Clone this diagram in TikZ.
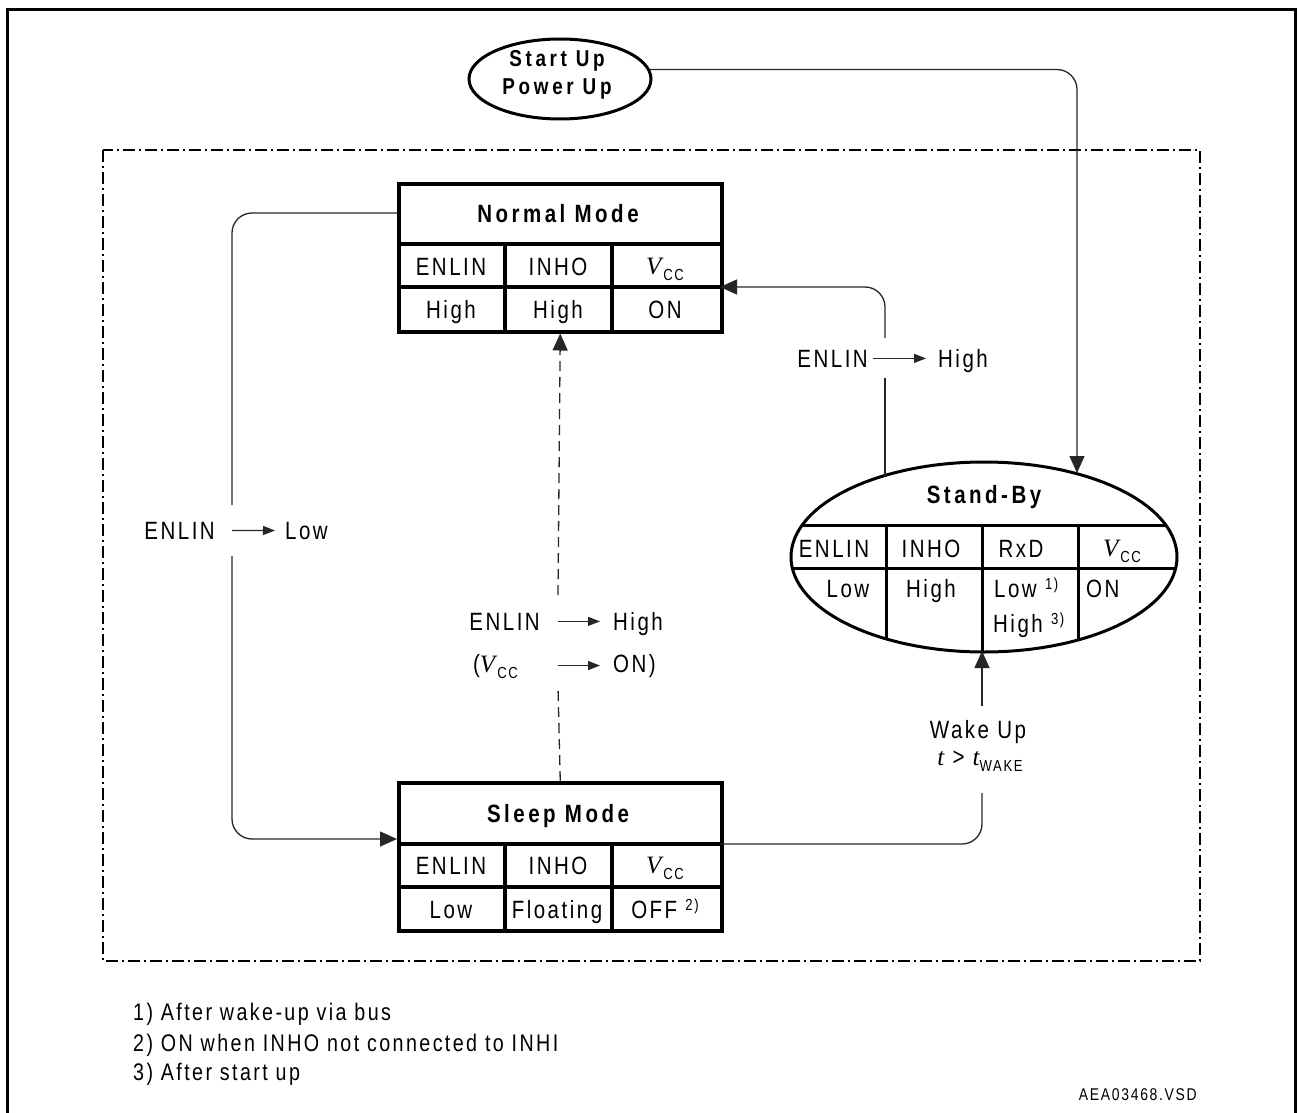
\documentclass[tikz,border=0pt]{standalone}
\usepackage{fontspec}
\setmainfont{Liberation Sans}[FakeStretch=0.82, LetterSpace=10]
\newfontfamily\tnr{Liberation Serif}
\usetikzlibrary{shapes.geometric, arrows.meta}
\newcommand\Vcc{{\tnr\itshape V}\hspace{2pt}\raisebox{-6pt}{\fontsize{16}{16}\selectfont CC}}
\newcommand\tWake{{\tnr\itshape t}\raisebox{-6pt}{\fontsize{16}{16}\selectfont WAKE}}
\newcommand\fnm[1]{\raisebox{8pt}{\fontsize{16}{16}\selectfont #1}}
\tikzset{
  txt/.style={inner sep=0pt, anchor=base, font=\fontsize{25}{30}\selectfont},
  ttl/.style={inner sep=0pt, anchor=base, font=\fontsize{25}{30}\selectfont\bfseries\addfontfeature{LetterSpace=14}},
  sttl/.style={inner sep=0pt, anchor=base, font=\fontsize{23}{28}\selectfont\bfseries\addfontfeature{LetterSpace=16}},
  fnt/.style={inner sep=0pt, anchor=base west, font=\fontsize{24}{28}\selectfont},
  conn/.style={line width=1.3pt, draw=black!85, rounded corners=20pt},
  tip/.style={-{Triangle[length=17pt,width=15pt]}},
  labarr/.style={line width=1.3pt, draw=black!85, -{Triangle[length=12pt,width=9pt]}},
  boxline/.style={line width=3.5pt},
  statebox/.style={draw, line width=3.5pt, minimum width=323pt, minimum height=148pt, inner sep=0pt, anchor=north west},
}
\begin{document}
\begin{tikzpicture}[x=1pt,y=-1pt]
\useasboundingbox (0,0) rectangle (1298,1113);
% outer frame
\draw[line width=3pt] (7,1125) -- (7,10) -- (1295,10) -- (1295,1125);
% dash-dot frame
\draw[line width=2pt, dash pattern=on 12pt off 4pt on 2pt off 4pt] (103,150) rectangle (1200,961);

% Start up ellipse
\node[draw, ellipse, line width=3pt, minimum width=182pt, minimum height=80pt, inner sep=0pt] (se) at (560,79) {};
\node[sttl] (se1) at (557,67) {Start Up};
\node[sttl] (se2) at (557,95) {Power Up};

% Normal mode box
\node[statebox] (nm) at (397,182) {};
\draw[boxline] (397,244) -- (720,244);
\draw[boxline] (397,287) -- (720,287);
\draw[boxline] (505,244) -- (505,331);
\draw[boxline] (612,244) -- (612,331);
\node[ttl] (nmT) at (558,222) {Normal Mode};
\node[txt] (nm11) at (451,275) {ENLIN};
\node[txt] (nm12) at (558,275) {INHO};
\node[txt] (nm13) at (665,274) {\Vcc};
\node[txt] (nm21) at (451,318) {High};
\node[txt] (nm22) at (558,318) {High};
\node[txt] (nm23) at (665,318) {ON};

% Sleep mode box
\node[statebox] (sl) at (397,781) {};
\draw[boxline] (397,844) -- (720,844);
\draw[boxline] (397,887) -- (720,887);
\draw[boxline] (505,844) -- (505,929);
\draw[boxline] (612,844) -- (612,929);
\node[ttl] (slT) at (558,822) {Sleep Mode};
\node[txt] (sl11) at (451,874) {ENLIN};
\node[txt] (sl12) at (558,874) {INHO};
\node[txt] (sl13) at (665,873) {\Vcc};
\node[txt] (sl21) at (451,918) {Low};
\node[txt] (sl22) at (557,918) {Floating};
\node[txt] (sl23) at (665,918) {OFF \fnm{2)}};

% Stand-by ellipse
\node[draw, ellipse, line width=3pt, minimum width=386pt, minimum height=190pt, inner sep=0pt] (sb) at (984,557) {};
\begin{scope}
  \clip (984,557) ellipse [x radius=193, y radius=95];
  \draw[line width=3pt] (780,525) -- (1190,525);
  \draw[line width=3pt] (780,568) -- (1190,568);
  \draw[line width=3pt] (886,525) -- (886,660);
  \draw[line width=3pt] (982,525) -- (982,660);
  \draw[line width=3pt] (1078,525) -- (1078,660);
\end{scope}
\node[ttl] (sbT) at (984,503) {Stand-By};
\node[txt] (sb11) at (834,557) {ENLIN};
\node[txt] (sb12) at (931,557) {INHO};
\node[txt] (sb13) at (1021,557) {RxD};
\node[txt] (sb14) at (1122,556) {\Vcc};
\node[txt] (sb21) at (848,597) {Low};
\node[txt] (sb22) at (931,597) {High};
\node[txt, anchor=base west] (sb23) at (994,597) {Low \fnm{1)}};
\node[txt, anchor=base west] (sb23b) at (993,632) {High \fnm{3)}};
\node[txt, anchor=base west] (sb24) at (1086,597) {ON};

% connector coordinates
\coordinate (nmL) at (397,213);
\coordinate (slL) at (397,839);
\coordinate (g1t) at (232,505);
\coordinate (g1b) at (232,556);
\coordinate (g2t) at (558,595);
\coordinate (g2b) at (558,687);
\coordinate (sbB) at (885,476);
\coordinate (g3b) at (885,378);
\coordinate (g3t) at (885,338);
\coordinate (nmR) at (720,287);
\coordinate (slR) at (720,844);
\coordinate (g4b) at (982,793);
\coordinate (g4t) at (982,706);
\coordinate (sbD) at (982,651);
\coordinate (sbA) at (1077,473);

% Start -> Stand-by
\draw[conn, tip] (se.6) -| (sbA);
% Normal -> Sleep
\draw[conn] (nmL) -| (g1t);
\draw[conn, tip] (g1b) |- (slL);
% Sleep -> Normal (dashed)
\draw[line width=1.3pt, draw=black!85, dash pattern=on 10pt off 6pt] (sl.north) -- (g2b);
\draw[line width=1.3pt, draw=black!85, dash pattern=on 10pt off 6pt, tip] (g2t) -- (nm.south);
% Stand-by -> Normal
\draw[conn] (sbB) -- (g3b);
\draw[conn, tip] (g3t) |- (nmR);
% Sleep -> Stand-by
\draw[conn] (slR) -| (g4b);
\draw[conn, tip] (g4t) -- (sbD);

% label 1
\node[txt, anchor=base east] (l1a) at (215,539) {ENLIN};
\node[txt, anchor=base west] (l1b) at (285,539) {Low};
\draw[labarr] ([xshift=17pt]l1a.east) -- ([xshift=-10pt]l1b.west);
% label 2
\node[txt, anchor=base east] (l2a) at (540,630) {ENLIN};
\node[txt, anchor=base west] (l2b) at (613,630) {High};
\draw[labarr] ([xshift=18pt]l2a.east) -- ([xshift=-13pt]l2b.west |- l2a.east);
\node[txt, anchor=base east] (l2c) at (518,672) {(\Vcc};
\node[txt, anchor=base west] (l2d) at (613,672) {ON)};
\draw[labarr] ([xshift=-55pt]l2d.west) -- ([xshift=-13pt]l2d.west);
% label 3
\node[txt, anchor=base east] (l3a) at (868,367) {ENLIN};
\node[txt, anchor=base west] (l3b) at (938,367) {High};
\draw[labarr] ([xshift=5pt]l3a.east) -- ([xshift=-12pt]l3b.west |- l3a.east);
% label 4
\node[txt] (l4a) at (978,738) {Wake Up};
\node[txt] (l4b) at (980,765) {{\tnr\itshape t} > \tWake};

% footnotes
\node[fnt] (f1) at (133,1020) {1) After wake-up via bus};
\node[fnt] (f2) at (133,1051) {2) ON when INHO not connected to INHI};
\node[fnt] (f3) at (133,1080) {3) After start up};
\node[inner sep=0pt, anchor=base east, font=\fontsize{17}{20}\selectfont] (doc) at (1197,1100) {AEA03468.VSD};
\end{tikzpicture}
\end{document}
